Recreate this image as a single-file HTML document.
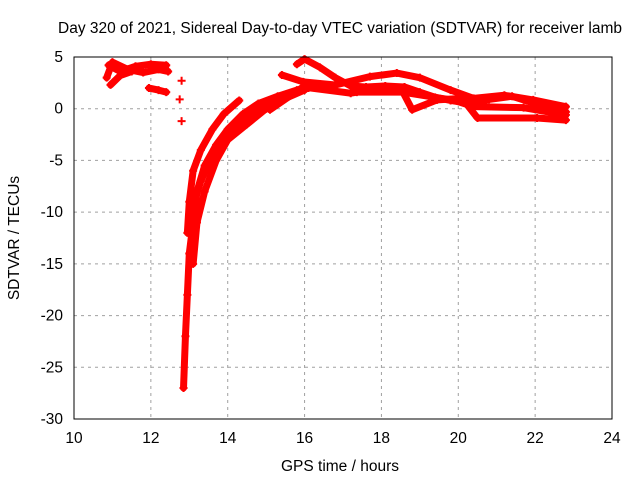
<!DOCTYPE html>
<html><head><meta charset="utf-8"><style>
body{margin:0;background:#fff}
svg{display:block;font-family:"Liberation Sans",sans-serif;font-size:15.5px}
</style></head><body>
<svg id="c" width="640" height="480">
<text x="340" y="33" text-anchor="middle">Day 320 of 2021, Sidereal Day-to-day VTEC variation (SDTVAR) for receiver lamb</text>
<text x="340" y="471" text-anchor="middle">GPS time / hours</text>
<text transform="translate(19,238) rotate(-90)" text-anchor="middle">SDTVAR / TECUs</text>
<g id="grid"></g><g id="ticks"></g><g id="data"></g>
<rect x="74" y="57" width="538" height="362" fill="none" stroke="#000"/>
</svg>
<script>
const xTicks=[10,12,14,16,18,20,22,24];
const yTicks=[5,0,-5,-10,-15,-20,-25,-30];
const trackA1=[[10.85,3.0],[11.0,4.5],[11.4,3.8],[11.8,3.5],[12.2,3.8],[12.45,3.6]];
const trackA2=[[10.9,4.2],[11.2,3.6],[11.6,4.1],[12.0,4.3],[12.4,4.2]];
const trackA3=[[10.95,2.3],[11.2,3.2],[11.5,3.6]];
const trackB=[[11.95,2.0],[12.2,1.8],[12.4,1.6]];
const dots=[[12.8,2.7],[12.75,0.9],[12.8,-1.2]];
const trackD1=[[12.85,-27],[12.9,-22],[12.95,-18],[13.0,-14],[13.1,-11],[13.2,-8],[13.4,-5.5],[13.7,-3.5],[14.0,-2],[14.4,-0.5],[14.8,0.5],[15.3,1.2],[15.8,1.8],[16.1,2.0]];
const trackD2=[[12.95,-12],[13.0,-9],[13.1,-6],[13.3,-4],[13.6,-2],[13.9,-0.5],[14.3,0.8]];
const trackD3=[[13.1,-15],[13.2,-11],[13.4,-8],[13.7,-5],[14.0,-3],[14.5,-1.5],[15.0,0],[15.5,1],[16.0,1.8]];
const trackD4=[[13.05,-10],[13.3,-7],[13.6,-4.5],[14.0,-2.5],[14.5,-1],[15.0,0.5]];
const trackC=[[15.8,4.3],[16.0,4.8],[16.4,4.0],[16.8,3.0],[17.2,2.2],[17.6,2.1],[18.1,2.2],[18.6,2.1],[19.0,1.6],[19.4,1.1],[19.8,0.8],[20.3,0.5],[20.8,0.9],[21.4,1.2],[22.0,0.5],[22.8,-0.3]];
const trackD=[[15.41,3.26],[15.96,2.6],[16.8,2.3],[17.7,3.1],[18.4,3.45],[19.0,3.0],[19.8,1.8],[20.4,1.0],[21.2,1.3],[21.95,0.85],[22.8,0.2]];
const trackE=[[15.1,-0.1],[15.96,2.1],[17.2,1.5],[17.36,1.6],[18.56,1.6],[18.8,-0.1],[19.45,0.85],[20.1,1.0],[20.5,-0.9],[22.05,-0.9],[22.8,-1.1]];
const trackF=[[18.56,1.6],[19.9,0.8],[20.4,0.2],[21.7,0.1],[22.8,-0.6]];
const tracks=[trackA1,trackA2,trackA3,trackB,trackD1,trackD2,trackD3,trackD4,trackC,trackD,trackE,trackF];
const NS="http://www.w3.org/2000/svg";
const X=v=>74+(v-10)*538/14, Y=v=>57+(5-v)*362/35;
const g=document.getElementById('grid'),tk=document.getElementById('ticks'),d=document.getElementById('data');
function mk(t,a,p){const e=document.createElementNS(NS,t);for(const k in a)e.setAttribute(k,a[k]);p.appendChild(e);return e;}
xTicks.forEach(v=>{
 if(v>10&&v<24){const l=mk('line',{x1:X(v),x2:X(v),y1:57,y2:419,stroke:'#a0a0a0','stroke-dasharray':'3,4'},g);
 
 }
 const t=mk('text',{x:X(v),y:443,'text-anchor':'middle'},tk);t.textContent=v;
 
 
});
yTicks.forEach(v=>{
 if(v<5&&v>-30){const l=mk('line',{x1:74,x2:612,y1:Y(v),y2:Y(v),stroke:'#a0a0a0','stroke-dasharray':'3,4'},g);
 
 }
 const t=mk('text',{x:63,y:Y(v)+5,'text-anchor':'end'},tk);t.textContent=v;
 
 
});
tracks.forEach(tr=>{
 const p=mk('polyline',{points:tr.map(q=>X(q[0])+','+Y(q[1])).join(' '),fill:'none',stroke:'#f00','stroke-width':7,'stroke-linejoin':'round','stroke-linecap':'round'},d);
 
 
});
tracks.concat([dots]).forEach(tr=>tr.forEach(q=>{
 const x=X(q[0]),y=Y(q[1]);
 const m=mk('path',{d:`M${x-4},${y}h8M${x},${y-4}v8`,stroke:'#f00','stroke-width':2},d);
 
 
}));
</script>
</body></html>
